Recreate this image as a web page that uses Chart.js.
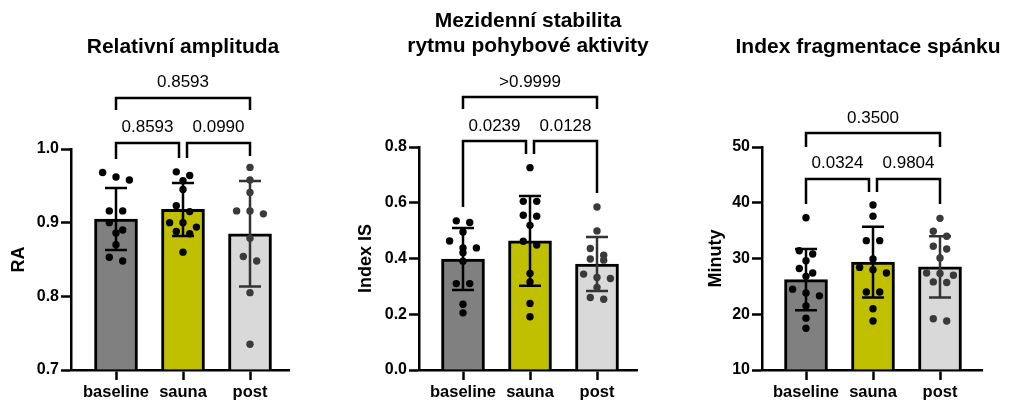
<!DOCTYPE html>
<html><head><meta charset="utf-8">
<script src="https://cdn.jsdelivr.net/npm/chart.js@4.4.1/dist/chart.umd.min.js"></script>
<style>
html,body{margin:0;padding:0;background:#fff;width:1013px;height:402px;overflow:hidden;}
canvas{position:absolute;top:0;}
</style></head><body>
<canvas id="c1" width="340" height="402" style="left:0px;width:340px;height:402px"></canvas>
<canvas id="c2" width="340" height="402" style="left:340px;width:340px;height:402px"></canvas>
<canvas id="c3" width="333" height="402" style="left:680px;width:333px;height:402px"></canvas>
<script>
// ---------- DATA ----------
const categories = ['baseline', 'sauna', 'post'];

// Relativní amplituda (RA)
const raBaseline = [0.968, 0.962, 0.958, 0.916, 0.916, 0.900, 0.890, 0.886, 0.870, 0.853, 0.848];
const raSauna    = [0.969, 0.964, 0.957, 0.945, 0.923, 0.915, 0.900, 0.900, 0.894, 0.888, 0.885, 0.860];
const raPost     = [0.975, 0.958, 0.941, 0.916, 0.916, 0.912, 0.879, 0.854, 0.848, 0.805, 0.735];
const raMean = [0.905, 0.918, 0.885];
const raSD   = [0.042, 0.036, 0.0715];
const raTicks = [0.7, 0.8, 0.9, 1.0];
const raP = ['0.8593', '0.0990', '0.8593']; // baseline–sauna, sauna–post, baseline–post

// Mezidenní stabilita (Index IS)
const isBaseline = [0.535, 0.529, 0.495, 0.463, 0.438, 0.438, 0.421, 0.390, 0.310, 0.310, 0.236, 0.205];
const isSauna    = [0.726, 0.605, 0.605, 0.555, 0.552, 0.519, 0.462, 0.448, 0.346, 0.316, 0.239, 0.191];
const isPost     = [0.585, 0.499, 0.436, 0.412, 0.398, 0.394, 0.344, 0.332, 0.328, 0.296, 0.260, 0.254];
const isMean = [0.398, 0.463, 0.380];
const isSD   = [0.111, 0.161, 0.097];
const isTicks = [0.0, 0.2, 0.4, 0.6, 0.8];
const isP = ['0.0239', '0.0128', '>0.9999'];

// Index fragmentace spánku (Minuty)
const sfBaseline = [37.3, 31.4, 30.8, 29.6, 28.2, 27.4, 26.8, 24.5, 23.8, 23.3, 21.5, 19.3, 17.5];
const sfSauna    = [39.6, 37.6, 33.2, 33.2, 29.9, 28.4, 28.0, 27.4, 24.0, 24.0, 21.0, 18.8];
const sfPost     = [37.2, 34.9, 34.0, 32.2, 31.7, 30.1, 27.4, 27.3, 27.0, 25.8, 25.7, 19.2, 18.8];
const sfMean = [26.2, 29.35, 28.5];
const sfSD   = [5.5, 6.35, 5.5];
const sfTicks = [10, 20, 30, 40, 50];
const sfP = ['0.0324', '0.9804', '0.3500'];

// ---------- STYLE / LAYOUT ----------
const FONT = "'Liberation Sans', Arial, Helvetica, sans-serif";
Chart.defaults.font.family = FONT;
Chart.defaults.color = '#000';
const barColors = ['#808080', '#c0c000', '#d9d9d9'];
const dotColors = ['#000000', '#000000', '#3a3a3a'];
const errColors = ['#000000', '#000000', '#333333'];

const panels = [
  { canvas:'c1', groups:[raBaseline, raSauna, raPost], mean:raMean, sd:raSD, ticks:raTicks, dec:1,
    p:raP, yTitle:'RA', title:['Relativní amplituda'], titleX:183, titleY:[47],
    W:340, axisLeft:71, axisRight:289, firstCenter:116, top:149, bottom:370, yTitlePad:8,
    topBr:{y:98, leg:110, ty:82}, inner:{y:143, legs:[[159,158],[158,156]], ty:127} },
  { canvas:'c2', groups:[isBaseline, isSauna, isPost], mean:isMean, sd:isSD, ticks:isTicks, dec:1,
    p:isP, yTitle:'Index IS', title:['Mezidenní stabilita','rytmu pohybové aktivity'], titleX:188, titleY:[21,46],
    W:340, axisLeft:79, axisRight:297, firstCenter:123, top:147, bottom:370, yTitlePad:15,
    topBr:{y:97, leg:109, ty:82}, inner:{y:141, legs:[[207,154],[154,193]], ty:126} },
  { canvas:'c3', groups:[sfBaseline, sfSauna, sfPost], mean:sfMean, sd:sfSD, ticks:sfTicks, dec:0,
    p:sfP, yTitle:'Minuty', title:['Index fragmentace spánku'], titleX:188, titleY:[47],
    W:333, axisLeft:82, axisRight:302, firstCenter:126, top:147, bottom:370, yTitlePad:25,
    topBr:{y:133, leg:147, ty:118}, inner:{y:179, legs:[[204,192],[192,204]], ty:163} }
];

const DOT_R = 3.7, STEP = 6.7, UNIT = 67;

function swarm(values, center, xs, ys) {
  const pxPerX = xs.getPixelForValue(1) - xs.getPixelForValue(0);
  const sorted = values.slice().sort((a, b) => b - a);
  const rows = []; let cur = null;
  for (const v of sorted) {
    const py = ys.getPixelForValue(v);
    if (cur && py - cur.start < DOT_R * 2) cur.items.push(v);
    else { cur = { start: py, items: [v] }; rows.push(cur); }
  }
  const out = [];
  rows.forEach(r => {
    const n = r.items.length;
    r.items.forEach((v, k) => out.push({ x: center + ((k - (n - 1) / 2) * 2 * STEP) / pxPerX, y: v }));
  });
  return out;
}

function makePanel(P) {
  const yMin = P.ticks[0], yMax = P.ticks[P.ticks.length - 1];
  const annot = {
    id: 'annot' + P.canvas,
    afterDatasetDraw(chart, args) {
      if (args.index !== 0) return;
      const ctx = chart.ctx, xs = chart.scales.x, ys = chart.scales.y;
      ctx.save();
      ctx.lineWidth = 2.5;
      P.mean.forEach((m, i) => {
        const x = xs.getPixelForValue(i);
        const yt = ys.getPixelForValue(m + P.sd[i]), yb = ys.getPixelForValue(m - P.sd[i]);
        ctx.strokeStyle = errColors[i];
        ctx.beginPath();
        ctx.moveTo(x, yt); ctx.lineTo(x, yb);
        ctx.moveTo(x - 11, yt); ctx.lineTo(x + 11, yt);
        ctx.moveTo(x - 11, yb); ctx.lineTo(x + 11, yb);
        ctx.stroke();
      });
      ctx.restore();
    },
    afterDraw(chart) {
      const ctx = chart.ctx, xs = chart.scales.x;
      const c = [0, 1, 2].map(i => xs.getPixelForValue(i));
      ctx.save();
      ctx.fillStyle = '#000';
      ctx.textAlign = 'center'; ctx.textBaseline = 'middle';
      ctx.font = 'bold 21px ' + FONT;
      P.title.forEach((t, k) => ctx.fillText(t, P.titleX, P.titleY[k]));
      ctx.strokeStyle = '#000'; ctx.lineWidth = 2.5; ctx.lineCap = 'butt';
      const br = (x1, x2, y, l1, l2) => {
        ctx.beginPath();
        ctx.moveTo(x1, l1); ctx.lineTo(x1, y); ctx.lineTo(x2, y); ctx.lineTo(x2, l2);
        ctx.stroke();
      };
      const T = P.topBr, I = P.inner;
      br(c[0], c[2], T.y, T.leg, T.leg);
      br(c[0], c[1] - 4, I.y, I.legs[0][0], I.legs[0][1]);
      br(c[1] + 4, c[2], I.y, I.legs[1][0], I.legs[1][1]);
      ctx.font = '17px ' + FONT;
      ctx.fillText(P.p[2], (c[0] + c[2]) / 2, T.ty);
      ctx.fillText(P.p[0], (c[0] + c[1] - 4) / 2, I.ty);
      ctx.fillText(P.p[1], (c[1] + 4 + c[2]) / 2, I.ty);
      ctx.restore();
    }
  };

  const datasets = [{
    type: 'bar',
    data: P.mean.map((m, i) => ({ x: i, y: m })),
    backgroundColor: barColors, borderColor: '#000', borderWidth: 3,
    barThickness: 43, base: yMin, order: 2
  }];
  P.groups.forEach((g, i) => datasets.push({
    type: 'scatter', data: g.map(v => ({ x: i, y: v })),
    pointRadius: DOT_R, pointBackgroundColor: dotColors[i], pointBorderWidth: 0,
    pointHoverRadius: DOT_R, clip: false, order: 1
  }));

  const xMin = -(P.firstCenter - P.axisLeft) / UNIT;
  const xMax = xMin + (P.axisRight - P.axisLeft) / UNIT;

  const chart = new Chart(document.getElementById(P.canvas), {
    type: 'bar',
    data: { datasets },
    plugins: [annot],
    options: {
      responsive: false, animation: false, events: [],
      layout: { padding: { left: 0, top: P.top, right: P.W - P.axisRight, bottom: 0 } },
      plugins: { legend: { display: false }, tooltip: { enabled: false }, title: { display: false } },
      scales: {
        x: {
          type: 'linear', offset: false, min: xMin, max: xMax,
          afterBuildTicks: s => { s.ticks = categories.map((_, i) => ({ value: i })); },
          afterFit: s => { s.height = 402 - P.bottom; },
          ticks: { callback: v => categories[v] ?? '', font: { size: 16.5, weight: 'bold' }, color: '#000',
                   padding: 3, autoSkip: false, maxRotation: 0, includeBounds: false },
          grid: { offset: false, drawOnChartArea: false, drawTicks: true, tickLength: 10, tickWidth: 2.5, tickColor: '#000' },
          border: { display: true, color: '#000', width: 2.5 }
        },
        y: {
          type: 'linear', min: yMin, max: yMax,
          afterBuildTicks: s => { s.ticks = P.ticks.map(v => ({ value: v })); },
          afterFit: s => { s.width = P.axisLeft; },
          ticks: { callback: v => Number(v).toFixed(P.dec), font: { size: 16, weight: 'bold' }, color: '#000', padding: 2 },
          grid: { drawOnChartArea: false, drawTicks: true, tickLength: 10, tickWidth: 2.5, tickColor: '#000' },
          border: { display: true, color: '#000', width: 2.5 },
          title: { display: true, text: P.yTitle, font: { size: 18, weight: 'bold' }, color: '#000',
                   padding: { top: P.yTitlePad, bottom: 0 } }
        }
      }
    }
  });
  const xs = chart.scales.x, ys = chart.scales.y;
  P.groups.forEach((g, i) => { chart.data.datasets[i + 1].data = swarm(g, i, xs, ys); });
  chart.update('none');
}
panels.forEach(makePanel);
</script>
</body></html>
